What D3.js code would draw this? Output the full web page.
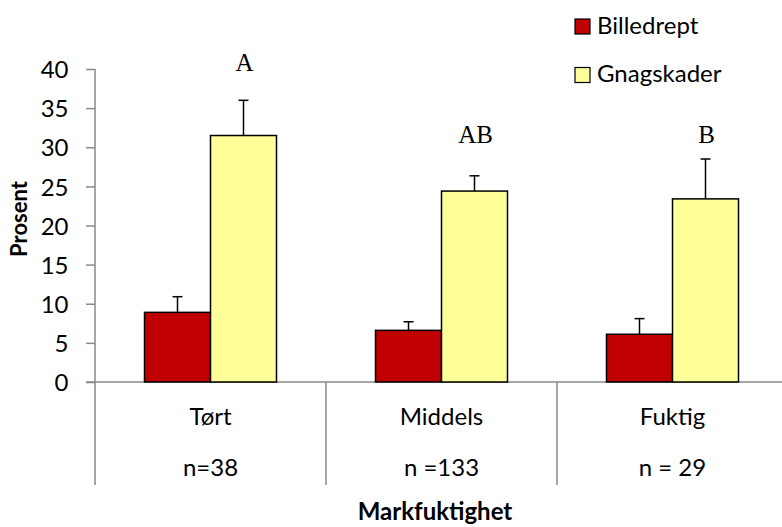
<!DOCTYPE html>
<html>
<head>
<meta charset="utf-8">
<script src="https://cdn.jsdelivr.net/npm/d3@7"></script>
<style>
  html, body { margin: 0; padding: 0; background: #fff; }
  svg { display: block; }
</style>
</head>
<body>
<svg id="chart" width="782" height="527"></svg>
<script>
// ---- data ----
const categories = ["Tørt", "Middels", "Fuktig"];
const sampleSizes = ["n=38", "n =133", "n = 29"];
const seriesNames = ["Billedrept", "Gnagskader"];
const billedrept = [8.9, 6.6, 6.1];
const billedreptErr = [2.0, 1.1, 2.0];
const gnagskader = [31.5, 24.4, 23.4];
const gnagskaderErr = [4.5, 1.95, 5.1];
const groupLetters = ["A", "AB", "B"];
const yTicks = [0, 5, 10, 15, 20, 25, 30, 35, 40];
const seriesColors = ["#C00000", "#FFFF99"];

const svg = d3.select("#chart");
const sansFont = "Lato, 'Open Sans', sans-serif";
const serifFont = "'Liberation Serif', 'Times New Roman', serif";
const axisColor = "#898989";
const fs = 24;

const plotLeft = 95, plotRight = 788, plotTop = 69, plotBottom = 382, labelBottom = 485;

const x = d3.scaleBand().domain(categories).range([plotLeft, plotRight]).paddingInner(0).paddingOuter(0);
const xSub = d3.scaleBand().domain(seriesNames).range([0, x.bandwidth()]).paddingInner(0).paddingOuter(0.75);
const y = d3.scaleLinear().domain([0, 40]).range([plotBottom, plotTop]);
const color = d3.scaleOrdinal().domain(seriesNames).range(seriesColors);

const rows = categories.map((c, i) => ({
  cat: c,
  values: [
    { s: seriesNames[0], v: billedrept[i], e: billedreptErr[i] },
    { s: seriesNames[1], v: gnagskader[i], e: gnagskaderErr[i] }
  ]
}));

// ---- y axis ----
const yAxis = d3.axisLeft(y).tickValues(yTicks).tickSize(9).tickPadding(18).tickSizeOuter(0);
const gy = svg.append("g").attr("transform", `translate(${plotLeft},0)`).call(yAxis);
gy.select(".domain").remove();
gy.selectAll(".tick line").attr("stroke", axisColor).attr("stroke-width", 1.5);
gy.selectAll(".tick text").attr("font-family", sansFont).attr("font-size", fs).attr("fill", "#000")
  .attr("x", -26.5).attr("dy", "0.36em");
svg.append("line").attr("x1", plotLeft).attr("x2", plotLeft).attr("y1", plotTop).attr("y2", labelBottom)
  .attr("stroke", axisColor).attr("stroke-width", 1.5);

// ---- x axis baseline & dividers ----
svg.append("line").attr("x1", plotLeft - 9).attr("x2", 782).attr("y1", y(0)).attr("y2", y(0))
  .attr("stroke", axisColor).attr("stroke-width", 1.5);
categories.slice(1).forEach(c => {
  svg.append("line").attr("x1", x(c)).attr("x2", x(c)).attr("y1", y(0)).attr("y2", labelBottom)
    .attr("stroke", axisColor).attr("stroke-width", 1.5);
});

// ---- bars ----
const groups = svg.append("g").selectAll("g").data(rows).join("g")
  .attr("transform", d => `translate(${x(d.cat)},0)`);

groups.selectAll("rect").data(d => d.values).join("rect")
  .attr("x", d => xSub(d.s))
  .attr("y", d => y(d.v))
  .attr("width", xSub.bandwidth())
  .attr("height", d => y(0) - y(d.v))
  .attr("fill", d => color(d.s))
  .attr("stroke", "#000").attr("stroke-width", 1.5);

// error bars (upper only)
const capW = 10;
groups.selectAll("g.err").data(d => d.values).join("g").attr("class", "err").each(function(d) {
  const g = d3.select(this);
  const cx = xSub(d.s) + xSub.bandwidth() / 2;
  g.append("line").attr("x1", cx).attr("x2", cx).attr("y1", y(d.v)).attr("y2", y(d.v + d.e))
    .attr("stroke", "#000").attr("stroke-width", 1.5);
  g.append("line").attr("x1", cx - capW / 2).attr("x2", cx + capW / 2).attr("y1", y(d.v + d.e)).attr("y2", y(d.v + d.e))
    .attr("stroke", "#000").attr("stroke-width", 1.5);
});

// significance letters over Gnagskader bars
const letterBase = [71, 142.5, 142.5];
svg.append("g").selectAll("text").data(categories).join("text")
  .attr("x", (c) => x(c) + xSub(seriesNames[1]) + xSub.bandwidth() / 2 + 1)
  .attr("y", (c, i) => letterBase[i])
  .attr("text-anchor", "middle")
  .attr("font-family", serifFont).attr("font-size", 25).attr("fill", "#000")
  .text((c, i) => groupLetters[i]);

// category labels
svg.append("g").selectAll("text").data(categories).join("text")
  .attr("x", c => x(c) + x.bandwidth() / 2).attr("y", 424.5)
  .attr("text-anchor", "middle").attr("font-family", sansFont).attr("font-size", fs).attr("fill", "#000")
  .text(c => c);
svg.append("g").selectAll("text").data(categories).join("text")
  .attr("x", c => x(c) + x.bandwidth() / 2).attr("y", 476)
  .attr("text-anchor", "middle").attr("font-family", sansFont).attr("font-size", fs).attr("fill", "#000")
  .text((c, i) => sampleSizes[i]);

// axis titles
svg.append("text").attr("x", 435).attr("y", 520).attr("text-anchor", "middle")
  .attr("font-family", sansFont).attr("font-weight", "bold").attr("font-size", fs).attr("fill", "#000")
  .text("Markfuktighet");
svg.append("text").attr("transform", "translate(26.5,219) rotate(-90)").attr("text-anchor", "middle")
  .attr("font-family", sansFont).attr("font-weight", "bold").attr("font-size", 22).attr("fill", "#000")
  .text("Prosent");

// legend
const legend = svg.append("g").selectAll("g").data(seriesNames).join("g")
  .attr("transform", (d, i) => `translate(575,${19 + i * 48.5})`);
legend.append("rect").attr("width", 15).attr("height", 15)
  .attr("fill", d => color(d)).attr("stroke", "#000").attr("stroke-width", 1.2);
legend.append("text").attr("x", 22).attr("y", 14.5)
  .attr("font-family", sansFont).attr("font-size", fs).attr("fill", "#000").text(d => d);
</script>
</body>
</html>
